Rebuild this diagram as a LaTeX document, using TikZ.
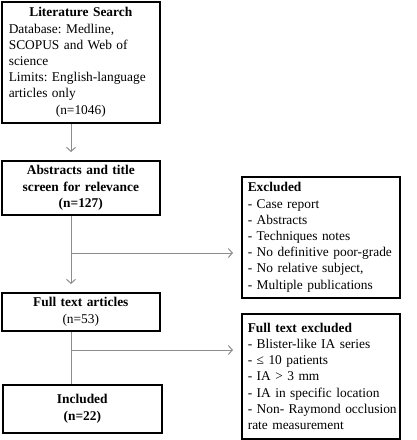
\documentclass[tikz,border=0pt]{standalone}
\usepackage{fontspec}
\setmainfont{Liberation Serif}
\usetikzlibrary{arrows.meta,shadows}
\begin{document}
\begin{tikzpicture}[x=1pt,y=1pt,
  box/.style={draw=black, line width=1.6pt, fill=white, anchor=north west,
    inner xsep=7pt, inner ysep=0pt,
    font=\fontsize{13.4}{16.2}\selectfont\frenchspacing,
    drop shadow={shadow xshift=1.1pt, shadow yshift=-1.1pt, fill=black!55, opacity=1}},
  exbox/.style={box, inner xsep=6pt, text width=146pt},
  conn/.style={draw=black!45, line width=0.9pt},
  arr/.style={conn, -{Straight Barb[length=4pt,width=9pt,line width=1pt]}, shorten >=8pt}
]
\useasboundingbox (0,0) rectangle (417,-440);
\node[box, text width=144pt, minimum height=121pt] (b1) at (1,-1)
  {\raggedright
   {\centering\bfseries Literature Search\par}
   \mbox{Database: Medline,}\par
   \mbox{SCOPUS and Web of}\par
   science\par
   \mbox{Limits: English-language}\par
   articles only\par
   {\centering (n=1046)\par}};
\node[box, text width=144pt, minimum height=54pt] (b2) at (1,-160)
  {{\centering\bfseries Abstracts and title\\ screen for relevance\\ (n=127)\par}};
\node[exbox, minimum height=121pt] (ex1) at (241,-176)
  {\raggedright
   {\bfseries Excluded\par}
   \mbox{- Case report}\par
   \mbox{- Abstracts}\par
   \mbox{- Techniques notes}\par
   \mbox{- No definitive poor-grade}\par
   \mbox{- No relative subject,}\par
   \mbox{- Multiple publications}\par
   \vspace*{-5pt}};
\node[box, text width=144pt, minimum height=38pt] (b3) at (1,-292)
  {{\centering{\bfseries Full text articles}\\ (n=53)\par}};
\node[exbox, minimum height=125pt] (ex2) at (241,-313)
  {\raggedright
   {\bfseries Full text excluded\par}
   \mbox{- Blister-like IA series}\par
   \mbox{- ≤ 10 patients}\par
   \mbox{- IA > 3 mm}\par
   \mbox{- IA in specific location}\par
   \mbox{- Non- Raymond occlusion}\par
   \mbox{rate measurement}\par};
\node[box, text width=145pt, minimum height=48pt] (b4) at (2,-384)
  {{\centering\bfseries Included\\ (n=22)\par}};
\coordinate (col) at (71,0);
\coordinate (j1) at (71,-253);
\coordinate (j2) at (71,-350);
\draw[arr] (b1.south -| col) -- (b2.north -| col);
\draw[arr] (b2.south -| col) -- (b3.north -| col);
\draw[arr] (j1) -- (j1 -| ex1.west);
\draw[conn] (b3.south -| col) -- (b4.north -| col);
\draw[arr] (j2) -- (j2 -| ex2.west);
\end{tikzpicture}
\end{document}
